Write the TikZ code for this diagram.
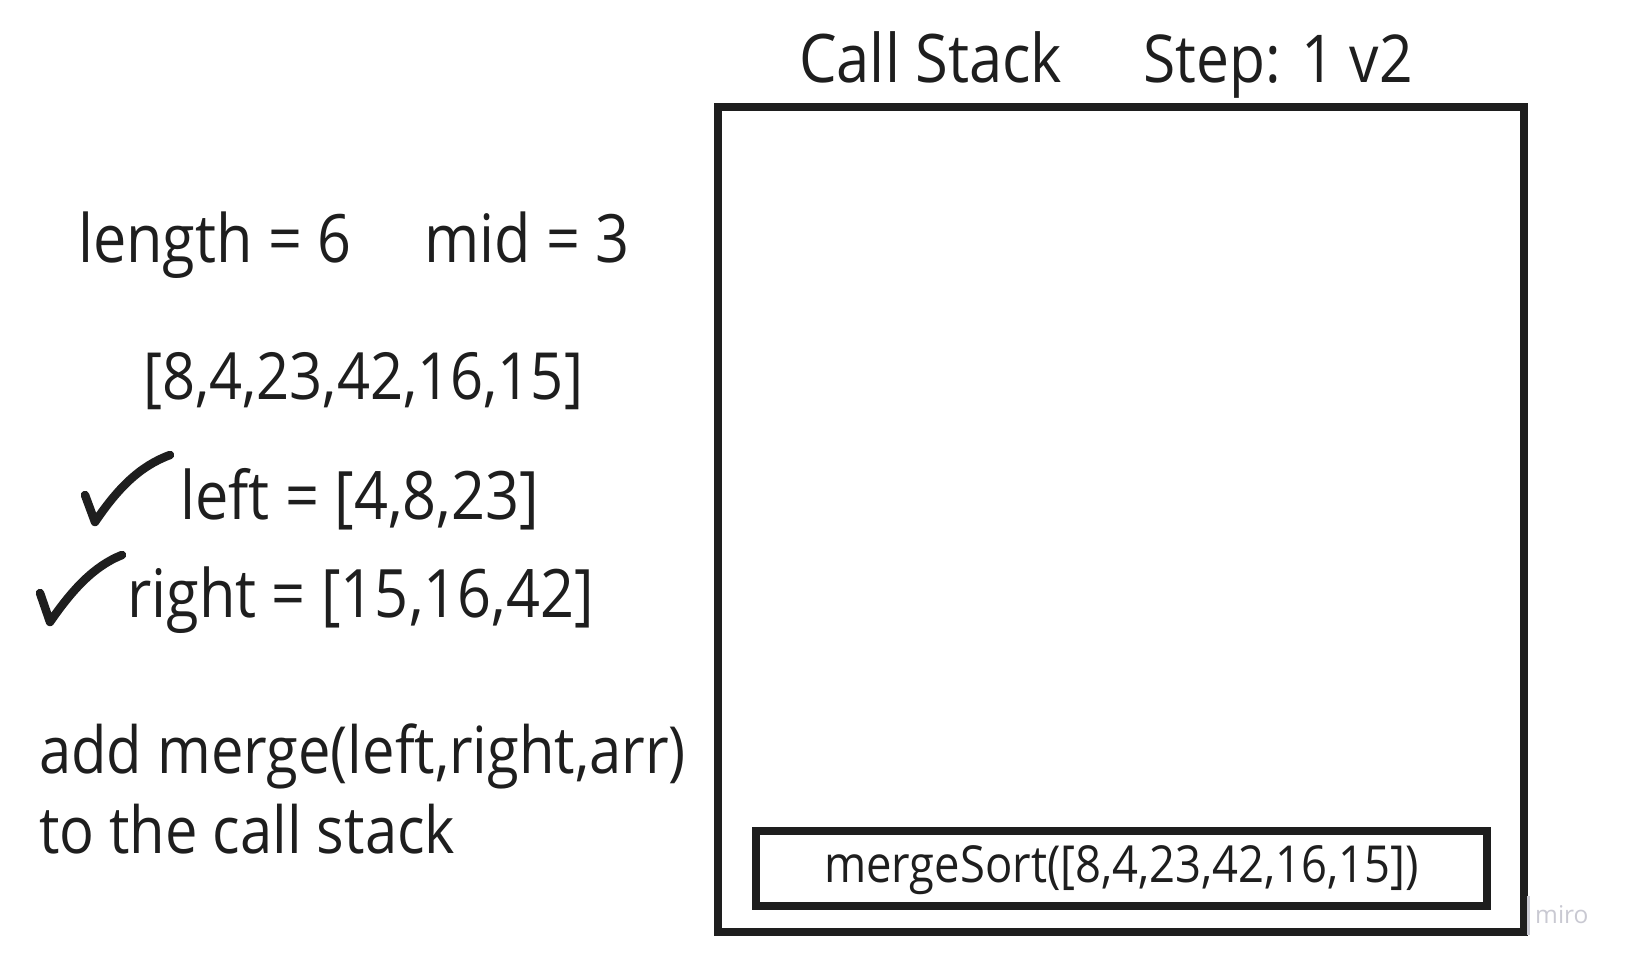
\documentclass[tikz,border=0pt]{standalone}
\usepackage{fontspec}
\setmainfont{Open Sans}[FakeStretch=0.89]
\newfontfamily\mirofont{Open Sans}
\definecolor{ink}{HTML}{1E1E1E}
\definecolor{miroc}{HTML}{C9C9D2}
\tikzset{
  txt/.style={anchor=base west, inner sep=0pt, text=ink, font=\fontsize{65}{78}\selectfont},
  txtb/.style={txt, font=\fontsize{66.7}{80}\selectfont},
  txtc/.style={txt, font=\fontsize{66.8}{80}\selectfont},
  boxframe/.style={draw=ink, line width=8.5pt, inner sep=0pt},
  tick/.style={draw=ink, line width=8.5pt, line cap=round, line join=round}
}
\begin{document}
\begin{tikzpicture}[x=1pt, y=-1pt]
\useasboundingbox (0,0) rectangle (1626,960);
% call stack frame
\node (stack) [boxframe, minimum width=806pt, minimum height=825pt] at (1121,519.5) {};
\node (frame) [boxframe, minimum width=731pt, minimum height=75pt] at (1121.5,868.5) {};
\node (framelabel) [anchor=base, inner sep=0pt, text=ink, font=\fontsize{51}{60}\selectfont] at (1121.5,882) {mergeSort([8,4,23,42,16,15])};
% titles
\node (title) [txt, font=\fontsize{67}{80}\selectfont] at (799,83) {Call Stack};
\node (step) [txt, font=\fontsize{66}{80}\selectfont] at (1143,83) {Step: 1 v2};
% left texts
\node (len) [txtb] at (78,262) {length = 6};
\node (mid) [txtb] at (424,262) {mid = 3};
\node (arr) [txt] at (143,399) {[8,4,23,42,16,15]};
\node (left) [txtc] at (180,519) {left = [4,8,23]};
\node (right) [txtc] at (127,617) {right = [15,16,42]};
\node (add) [txt] at (39,773) {add merge(left,right,arr)};
\node (to) [txt] at (39,853) {to the call stack};
% check marks
\draw[tick] (85,495) -- (95,522) .. controls (118,488) and (140,466) .. (170,455);
\draw[tick] (40,593) -- (50,622) .. controls (72,590) and (94,566) .. (122,555);
% watermark
\draw[miroc, line width=3pt] (1528,896) -- (1528,935);
\node (miro) [anchor=base west, inner sep=0pt, text=miroc, font=\mirofont\fontsize{24.5}{28}\selectfont] at (1535,923) {miro};
\end{tikzpicture}
\end{document}
